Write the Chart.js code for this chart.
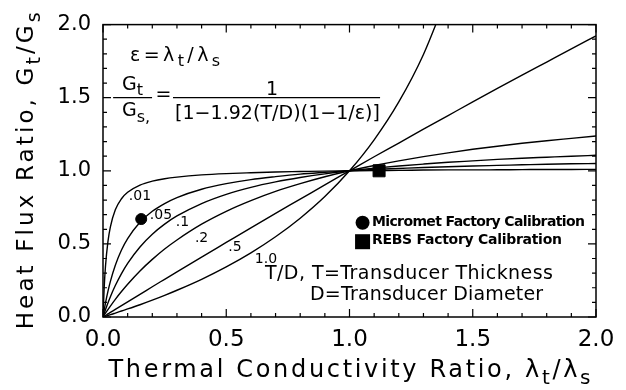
<!DOCTYPE html>
<html>
<head>
<meta charset="utf-8">
<script src="https://cdn.jsdelivr.net/npm/chart.js@4"></script>
<style>
  body { margin: 0; background: #fff; }
</style>
</head>
<body>
<canvas id="myChart" width="626" height="390"></canvas>
<script>
// thermal conductivity ratio, lambda_t / lambda_s
const epsilon = [0, 0.005, 0.01, 0.02, 0.03, 0.05, 0.075, 0.1, 0.15, 0.2, 0.25, 0.3, 0.4, 0.5, 0.6, 0.7, 0.8, 0.9, 1.0,
  1.1, 1.2, 1.3, 1.4, 1.5, 1.6, 1.7, 1.8, 1.9, 2.0];

// heat flux ratio Gt/Gs, one list per T/D
const td001 = [0, 0.207, 0.345, 0.515, 0.617, 0.733, 0.809, 0.853, 0.902, 0.929, 0.946, 0.957, 0.972, 0.981, 0.987, 0.992, 0.995, 0.998, 1.0,
  1.002, 1.003, 1.005, 1.006, 1.006, 1.007, 1.008, 1.009, 1.009, 1.010];
const td005 = [0, 0.050, 0.095, 0.175, 0.244, 0.354, 0.458, 0.536, 0.648, 0.723, 0.776, 0.817, 0.874, 0.912, 0.940, 0.960, 0.977, 0.989, 1.0,
  1.009, 1.016, 1.023, 1.028, 1.033, 1.037, 1.041, 1.045, 1.048, 1.050];
const td01 = [0, 0.026, 0.050, 0.096, 0.139, 0.215, 0.297, 0.367, 0.479, 0.566, 0.635, 0.691, 0.776, 0.839, 0.887, 0.924, 0.954, 0.979, 1.0,
  1.018, 1.033, 1.046, 1.058, 1.068, 1.078, 1.086, 1.093, 1.100, 1.106];
const td02 = [0, 0.013, 0.026, 0.051, 0.075, 0.121, 0.174, 0.224, 0.315, 0.394, 0.465, 0.527, 0.635, 0.723, 0.796, 0.859, 0.912, 0.959, 1.0,
  1.036, 1.068, 1.097, 1.123, 1.147, 1.168, 1.188, 1.206, 1.222, 1.238];
const td05 = [0, 0.005, 0.010, 0.021, 0.031, 0.052, 0.078, 0.104, 0.155, 0.207, 0.258, 0.309, 0.410, 0.510, 0.610, 0.709, 0.806, 0.904, 1.0,
  1.096, 1.190, 1.285, 1.378, 1.471, 1.563, 1.654, 1.744, 1.834, 1.923];
const td10 = [0, 0.003, 0.005, 0.011, 0.016, 0.027, 0.041, 0.055, 0.084, 0.115, 0.148, 0.183, 0.258, 0.343, 0.439, 0.549, 0.676, 0.824, 1.0,
  1.212, 1.471, 1.796, 2.215, null, null, null, null, null, null];

const curveNames = ['.01', '.05', '.1', '.2', '.5', '1.0'];
const curveValues = [td001, td005, td01, td02, td05, td10];

// factory calibration points
const micrometPoint = [0.155, 0.67];
const rebsPoint = [1.12, 1.0];

const axisTicks = [0, 0.5, 1.0, 1.5, 2.0];

const FONT = '"DejaVu Sans"';

const toPoints = (ys) => epsilon.map((x, i) => ({ x: x, y: ys[i] }));

const datasets = curveValues.map((ys, i) => ({
  label: curveNames[i],
  data: toPoints(ys),
  borderColor: '#000',
  borderWidth: 1.4,
  pointRadius: 0,
  fill: false,
  cubicInterpolationMode: 'monotone'
}));

datasets.push({
  label: 'Micromet Factory Calibration',
  data: [{ x: micrometPoint[0], y: micrometPoint[1] }],
  showLine: false,
  pointStyle: 'circle',
  pointRadius: 5.5,
  backgroundColor: '#000',
  borderColor: '#000'
});
datasets.push({
  label: 'REBS Factory Calibration',
  data: [{ x: rebsPoint[0], y: rebsPoint[1] }],
  showLine: false,
  pointStyle: 'rect',
  pointRadius: 8.5,
  backgroundColor: '#000',
  borderColor: '#000'
});

// text with subscripts; parts = [[text, isSub], ...]
function richText(ctx, parts, x, y, size, opts) {
  opts = opts || {};
  const subSize = Math.round(size * 0.82);
  const fontOf = (p) => (opts.weight || 'normal') + ' ' + (p[1] ? subSize : size) + 'px ' + FONT;
  ctx.letterSpacing = '0px';
  let natural = 0, count = 0;
  const widths = parts.map(p => {
    ctx.font = fontOf(p);
    const w = ctx.measureText(p[0]).width;
    natural += w;
    count += p[0].length;
    return w;
  });
  const gap = opts.width ? (opts.width - natural) / Math.max(count - 1, 1) : 0;
  const total = natural + gap * (count - 1);
  let cx = opts.align === 'center' ? x - total / 2 : x;
  ctx.textAlign = 'left';
  ctx.textBaseline = opts.baseline || 'alphabetic';
  parts.forEach((p, i) => {
    ctx.font = fontOf(p);
    ctx.letterSpacing = gap + 'px';
    ctx.fillText(p[0], cx, y + (p[1] ? size * 0.3 : 0));
    cx += widths[i] + gap * p[0].length;
  });
  ctx.letterSpacing = '0px';
}

const decorations = {
  id: 'decorations',
  afterDraw(chart) {
    const ctx = chart.ctx;
    const xs = chart.scales.x, ys = chart.scales.y;
    const X = v => xs.getPixelForValue(v);
    const Y = v => ys.getPixelForValue(v);
    const area = chart.chartArea;
    ctx.save();
    ctx.fillStyle = '#000';
    ctx.strokeStyle = '#000';

    // frame
    ctx.lineWidth = 1.5;
    ctx.strokeRect(area.left, area.top, area.right - area.left, area.bottom - area.top);

    // inward ticks on all sides
    ctx.lineWidth = 1.2;
    ctx.beginPath();
    for (let i = 0; i <= 20; i++) {
      const len = i % 5 === 0 ? 8 : 4;
      const px = X(i / 10), py = Y(i / 10);
      ctx.moveTo(px, area.bottom); ctx.lineTo(px, area.bottom - len);
      ctx.moveTo(px, area.top); ctx.lineTo(px, area.top + len);
      ctx.moveTo(area.left, py); ctx.lineTo(area.left + len, py);
      ctx.moveTo(area.right, py); ctx.lineTo(area.right - len, py);
    }
    ctx.stroke();

    // curve labels
    const labelPos = [[0.150, 0.827], [0.235, 0.698], [0.322, 0.650], [0.400, 0.535], [0.535, 0.475], [0.661, 0.395]];
    ctx.font = '14px ' + FONT;
    ctx.textAlign = 'center';
    ctx.textBaseline = 'middle';
    curveNames.forEach((n, i) => ctx.fillText(n, X(labelPos[i][0]), Y(labelPos[i][1])));

    // epsilon definition
    richText(ctx, [['ε=λ', 0], ['t', 1], ['/λ', 0], ['s', 1]], X(0.110), Y(1.754), 19, { width: 90 });

    // formula
    ctx.lineWidth = 1.2;
    ctx.beginPath();
    ctx.moveTo(X(0.041), Y(1.5)); ctx.lineTo(X(0.199), Y(1.5));
    ctx.moveTo(X(0.284), Y(1.5)); ctx.lineTo(X(1.124), Y(1.5));
    ctx.stroke();
    richText(ctx, [['G', 0], ['t', 1]], X(0.077), Y(1.555), 19);
    richText(ctx, [['G', 0], ['s,', 1]], X(0.077), Y(1.375), 19);
    richText(ctx, [['=', 0]], X(0.245), Y(1.515), 19, { align: 'center', baseline: 'middle' });
    richText(ctx, [['1', 0]], X(0.686), Y(1.52), 19, { align: 'center' });
    richText(ctx, [['[1−1.92(T/D)(1−1/ε)]', 0]], X(0.292), Y(1.355), 19, { width: 205 });

    // legend for the calibration marks
    ctx.beginPath();
    ctx.arc(X(1.053), Y(0.645), 7, 0, Math.PI * 2);
    ctx.fill();
    ctx.fillRect(X(1.053) - 7.5, Y(0.515) - 7.5, 15, 15);
    richText(ctx, [['Micromet Factory Calibration', 0]], X(1.091), Y(0.645), 14, { weight: 'bold', width: 213, baseline: 'middle' });
    richText(ctx, [['REBS Factory Calibration', 0]], X(1.091), Y(0.522), 14, { weight: 'bold', width: 190, baseline: 'middle' });

    // T/D note
    richText(ctx, [['T/D, T=Transducer Thickness', 0]], X(0.657), Y(0.296), 19, { width: 288, baseline: 'middle' });
    richText(ctx, [['D=Transducer Diameter', 0]], X(0.840), Y(0.153), 19, { width: 233, baseline: 'middle' });

    // axis titles
    richText(ctx, [['Thermal Conductivity Ratio, λ', 0], ['t', 1], ['/λ', 0], ['s', 1]],
      (area.left + area.right) / 2, 377, 24, { align: 'center', width: 482 });
    ctx.translate(33, (area.top + area.bottom) / 2);
    ctx.rotate(-Math.PI / 2);
    richText(ctx, [['Heat Flux Ratio, G', 0], ['t', 1], ['/G', 0], ['s', 1]], 0, 0, 23, { align: 'center', width: 317 });

    ctx.restore();
  }
};

const config = {
  type: 'line',
  data: { datasets: datasets },
  options: {
    responsive: false,
    animation: false,
    events: [],
    layout: { padding: { top: 16, right: 30, bottom: 0, left: 0 } },
    plugins: {
      legend: { display: false },
      tooltip: { enabled: false }
    },
    scales: {
      x: {
        type: 'linear',
        min: 0,
        max: 2,
        afterFit: (scale) => { scale.height = 73; },
        afterBuildTicks: (scale) => { scale.ticks = axisTicks.map(v => ({ value: v })); },
        grid: { display: false, drawTicks: false },
        border: { display: false },
        ticks: {
          color: '#000',
          padding: 9,
          font: { family: 'DejaVu Sans', size: 23 },
          callback: (v) => v.toFixed(1)
        }
      },
      y: {
        type: 'linear',
        min: 0,
        max: 2,
        afterFit: (scale) => { scale.width = 103; },
        afterBuildTicks: (scale) => { scale.ticks = axisTicks.map(v => ({ value: v })); },
        grid: { display: false, drawTicks: false },
        border: { display: false },
        ticks: {
          color: '#000',
          padding: 12,
          font: { family: 'DejaVu Sans', size: 21 },
          callback: (v) => v.toFixed(1)
        }
      }
    }
  },
  plugins: [decorations]
};

const myChart = new Chart(document.getElementById('myChart'), config);
</script>
</body>
</html>
